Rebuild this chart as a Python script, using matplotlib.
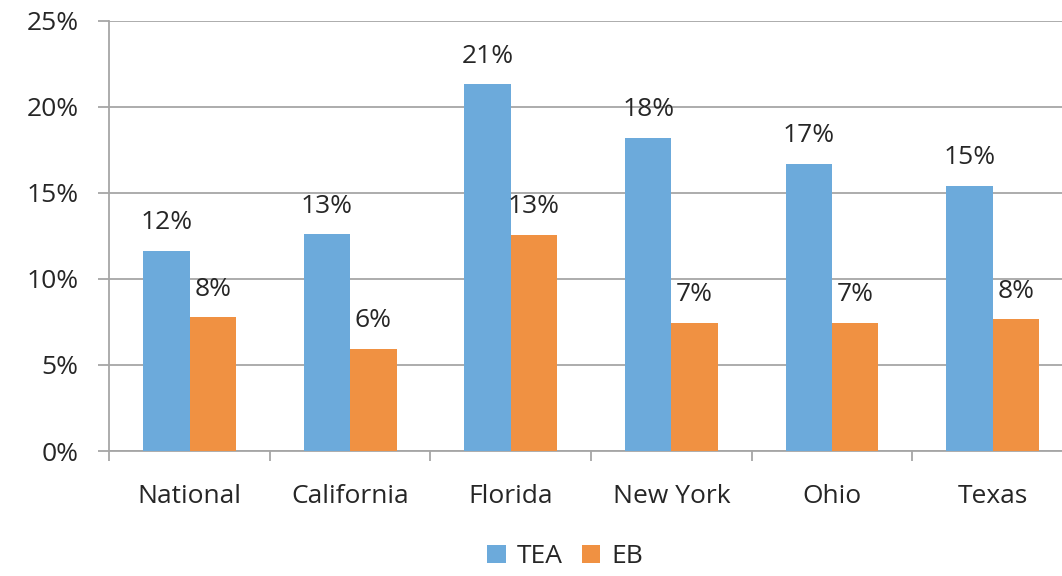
import matplotlib
matplotlib.use("Agg")
import matplotlib.pyplot as plt
import numpy as np
from matplotlib.ticker import MultipleLocator, FuncFormatter

plt.rcParams['font.family'] = ['Open Sans', 'DejaVu Sans']

categories = ["National", "California", "Florida", "New York", "Ohio", "Texas"]
tea = [11.65, 12.6, 21.3, 18.2, 16.7, 15.4]
eb = [7.77, 5.93, 12.55, 7.44, 7.44, 7.66]
series_names = ["TEA", "EB"]

blue = "#6CAADB"
orange = "#F09142"
text_color = "#262626"
grid_color = "#A6A6A6"

fig = plt.figure(figsize=(10.62, 5.76), dpi=100)
ax = fig.add_axes([0.1029, 0.217, 0.9074, 0.747])

x = np.arange(len(categories))
w = 0.289
b1 = ax.bar(x - w / 2, tea, w, color=blue, label=series_names[0], zorder=3)
b2 = ax.bar(x + w / 2, eb, w, color=orange, label=series_names[1], zorder=3)

for bars in (b1, b2):
    for rect in bars:
        v = rect.get_height()
        ax.annotate(f"{round(v + 1e-9):.0f}%", (rect.get_x() + rect.get_width() / 2, v),
                    xytext=(0, 15.5), textcoords="offset points",
                    ha="center", va="baseline", fontsize=19, color=text_color)

ax.set_xlim(-0.5, len(categories) - 0.5)
ax.set_ylim(0, 25)
ax.yaxis.set_major_locator(MultipleLocator(5))
ax.yaxis.set_major_formatter(FuncFormatter(lambda v, p: f"{v:.0f}%"))
ax.yaxis.grid(True, color=grid_color, linewidth=1.3, zorder=0)
ax.set_axisbelow(True)

ax.set_xticks(np.arange(len(categories) + 1) - 0.5, minor=False)
ax.set_xticklabels([])
ax.set_xticks(x, minor=True)
ax.set_xticklabels(categories, minor=True)
ax.tick_params(axis="x", which="major", length=7, width=1.3, color=grid_color, direction="out")
ax.tick_params(axis="x", which="minor", length=0, pad=24, labelsize=19, labelcolor=text_color)
ax.tick_params(axis="y", length=8, width=1.3, color=grid_color, pad=14,
               labelsize=19, labelcolor=text_color)

for side in ("top", "right"):
    ax.spines[side].set_visible(False)
for side in ("left", "bottom"):
    ax.spines[side].set_color(grid_color)
    ax.spines[side].set_linewidth(1.3)

fig.legend(handles=[b1, b2], labels=series_names, loc="center",
           bbox_to_anchor=(0.532, 0.033), ncol=2, frameon=False,
           fontsize=19, handlelength=0.7, handleheight=0.7, handletextpad=0.4,
           columnspacing=0.75, labelcolor=text_color)

fig.savefig("out.png", dpi=100)
